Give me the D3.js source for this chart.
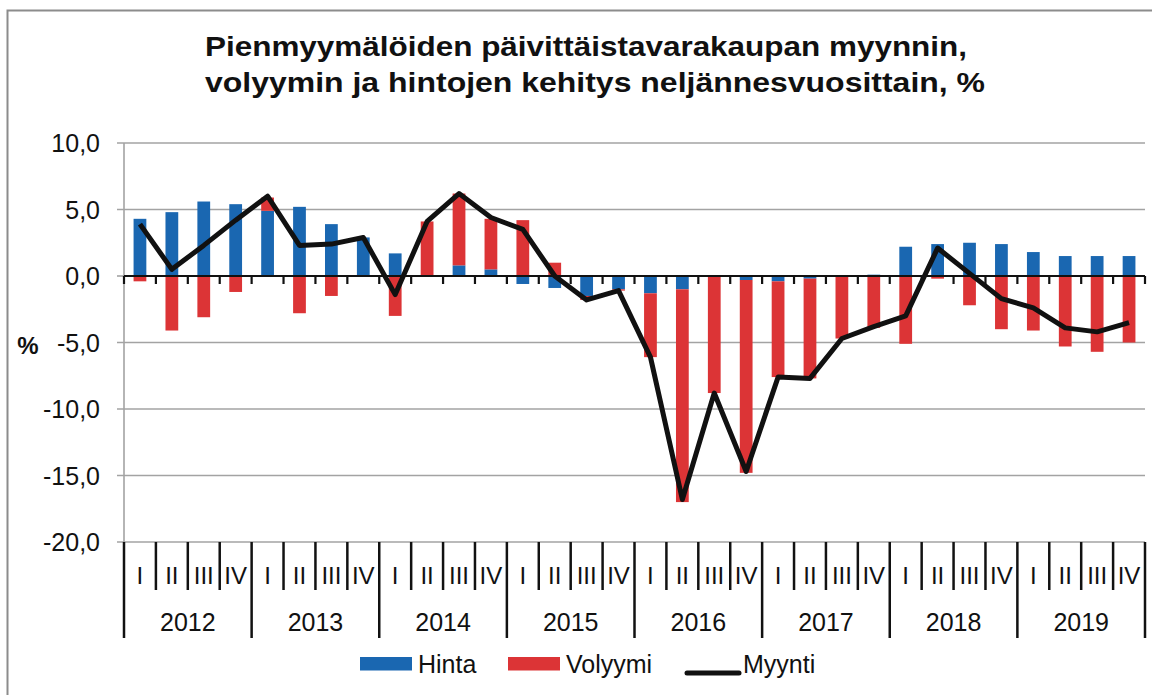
<!DOCTYPE html>
<html>
<head>
<meta charset="utf-8">
<script src="https://cdn.jsdelivr.net/npm/d3@7"></script>
<style>
  body { margin: 0; background: #fff; }
  text { font-family: "Liberation Sans", Arial, sans-serif; fill: #111; }
</style>
</head>
<body>
<div class="mainView"></div>
<script>
// data
let years = ["2012","2013","2014","2015","2016","2017","2018","2019"];
let quarters = ["I","II","III","IV"];
let hinta = [4.3, 4.8, 5.6, 5.4,  4.9, 5.2, 3.9, 2.9,  1.7, 0.0, 0.8, 0.5,
             -0.6, -0.9, -1.5, -1.0,  -1.3, -1.0, 0.0, -0.3,  -0.4, -0.2, 0.0, 0.1,
             2.2, 2.4, 2.5, 2.4,  1.8, 1.5, 1.5, 1.5];
let volyymi = [-0.4, -4.1, -3.1, -1.2,  1.0, -2.8, -1.5, 0.0,  -3.0, 4.1, 5.4, 3.8,
               4.2, 1.0, -0.3, -0.1,  -4.8, -16.0, -8.8, -14.5,  -7.2, -7.5, -4.7, -3.9,
               -5.1, -0.2, -2.2, -4.0,  -4.1, -5.3, -5.7, -5.0];
let myynti = [3.9, 0.5, 2.3, 4.2,  6.0, 2.3, 2.4, 2.9,  -1.4, 4.1, 6.2, 4.4,
              3.5, 0.0, -1.8, -1.1,  -6.1, -16.8, -8.8, -14.7,  -7.6, -7.7, -4.7, -3.8,
              -3.0, 2.1, 0.2, -1.7,  -2.4, -3.9, -4.2, -3.5];
let yTicks = [10, 5, 0, -5, -10, -15, -20];
let seriesNames = ["Hinta", "Volyymi", "Myynti"];
let titleLines = ["Pienmyymälöiden päivittäistavarakaupan myynnin,",
                  "volyymin ja hintojen kehitys neljännesvuosittain, %"];

function displayChart(){
    let config = chartConfiguration();
    let rows = buildRows();
    let scales = chartScales(rows, config);
    drawFrame(config);
    drawGrid(scales, config);
    drawBars(rows, scales, config);
    drawCategoryAxis(scales, config);
    drawLine(rows, scales, config);
    drawLegend(config);
}

function chartConfiguration(){
    let width = 1152;
    let height = 695;
    let left = 124, right = 1145, top = 143, bottom = 542;
    let svg = d3.select(".mainView")
        .append("svg")
        .attr("width", width)
        .attr("height", height);
    return { width, height, left, right, top, bottom, svg };
}

function buildRows(){
    let rows = [];
    years.forEach((y, yi) => {
        quarters.forEach((q, qi) => {
            let i = yi*4 + qi;
            rows.push({ key: y + "-" + q, year: y, quarter: q,
                        Hinta: hinta[i], Volyymi: volyymi[i], Myynti: myynti[i] });
        });
    });
    return rows;
}

function chartScales(rows, config){
    let xScale = d3.scaleBand()
        .domain(rows.map(d => d.key))
        .range([config.left, config.right])
        .padding(0);
    let yScale = d3.scaleLinear()
        .domain([-20, 10])
        .range([config.bottom, config.top]);
    let cScale = d3.scaleOrdinal()
        .domain(["Hinta", "Volyymi"])
        .range(["#1a67b1", "#dc3436"]);
    return { xScale, yScale, cScale };
}

function drawFrame(config){
    config.svg.append("path")
        .attr("d", "M7.5,720V10.5H1200")
        .style("fill", "none")
        .style("stroke", "#8c8c8c")
        .style("stroke-width", 2);

    let tl = [ { y: 56, len: 762 }, { y: 92, len: 780 } ];
    titleLines.forEach((t, i) => {
        config.svg.append("text")
            .attr("x", 586 + (i === 1 ? 9 : 0)).attr("y", tl[i].y)
            .attr("text-anchor", "middle")
            .attr("textLength", tl[i].len)
            .attr("lengthAdjust", "spacingAndGlyphs")
            .style("font-size", "28px").style("font-weight", "bold")
            .text(t);
    });

    config.svg.append("text")
        .attr("x", 28).attr("y", 354)
        .attr("text-anchor", "middle")
        .style("font-size", "24px").style("font-weight", "bold")
        .text("%");
}

function drawGrid(scales, config){
    let { yScale } = scales;
    let { svg, left, right } = config;
    let g = svg.append("g");
    yTicks.forEach(t => {
        if (t === 0) return;
        g.append("line")
            .attr("x1", left - 7).attr("x2", right)
            .attr("y1", yScale(t)).attr("y2", yScale(t))
            .style("stroke", "#a3a3a3").style("stroke-width", 1.6);
    });
    g.append("line")
        .attr("x1", left - 7).attr("x2", left)
        .attr("y1", yScale(0)).attr("y2", yScale(0))
        .style("stroke", "#a3a3a3").style("stroke-width", 1.6);
    g.append("line")
        .attr("x1", left).attr("x2", left)
        .attr("y1", yScale(10)).attr("y2", yScale(-20))
        .style("stroke", "#a3a3a3").style("stroke-width", 1.6);
    yTicks.forEach(t => {
        g.append("text")
            .attr("x", 100).attr("y", yScale(t))
            .attr("dy", "0.36em")
            .attr("text-anchor", "end")
            .style("font-size", "25px")
            .text(d3.format(".1f")(t).replace(".", ",").replace("−", "-"));
    });
}

function drawBars(rows, scales, config){
    let { xScale, yScale, cScale } = scales;
    let stack = d3.stack()
        .keys(["Hinta", "Volyymi"])
        .offset(d3.stackOffsetDiverging);
    let layers = stack(rows);
    let bw = xScale.bandwidth() * 0.4;
    config.svg.append("g").selectAll("g")
        .data(layers)
        .join("g")
        .style("fill", d => cScale(d.key))
        .selectAll("rect")
        .data(d => d)
        .join("rect")
        .attr("x", d => xScale(d.data.key) + (xScale.bandwidth() - bw)/2)
        .attr("width", bw)
        .attr("y", d => yScale(Math.max(d[0], d[1])))
        .attr("height", d => Math.abs(yScale(d[0]) - yScale(d[1])));

    // zero line with quarter ticks
    let g = config.svg.append("g");
    g.append("line")
        .attr("x1", config.left).attr("x2", config.right)
        .attr("y1", yScale(0)).attr("y2", yScale(0))
        .style("stroke", "#111").style("stroke-width", 2.2);
    let bounds = rows.map(d => xScale(d.key)).concat([config.right]);
    bounds.forEach(x => {
        g.append("line")
            .attr("x1", x).attr("x2", x)
            .attr("y1", yScale(0)).attr("y2", yScale(0) + 8)
            .style("stroke", "#111").style("stroke-width", 2.2);
    });
}

function drawCategoryAxis(scales, config){
    let { xScale } = scales;
    let { svg, bottom, right } = config;
    let g = svg.append("g");
    let step = xScale.step();
    xScale.domain().forEach((k, i) => {
        let x = xScale(k);
        let isYear = i % 4 === 0;
        g.append("line")
            .attr("x1", x).attr("x2", x)
            .attr("y1", bottom).attr("y2", isYear ? 638 : 590)
            .style("stroke", "#111").style("stroke-width", 2.5);
        g.append("text")
            .attr("x", x + step/2).attr("y", 584)
            .attr("text-anchor", "middle")
            .style("font-size", "24px")
            .text(quarters[i % 4]);
    });
    g.append("line")
        .attr("x1", right).attr("x2", right)
        .attr("y1", bottom).attr("y2", 638)
        .style("stroke", "#111").style("stroke-width", 2.5);
    years.forEach((y, yi) => {
        let x0 = xScale(y + "-I");
        g.append("text")
            .attr("x", x0 + step*2).attr("y", 631)
            .attr("text-anchor", "middle")
            .style("font-size", "25px")
            .text(y);
    });
}

function drawLine(rows, scales, config){
    let { xScale, yScale } = scales;
    let line = d3.line()
        .x(d => xScale(d.key) + xScale.bandwidth()/2)
        .y(d => yScale(d.Myynti));
    config.svg.append("path")
        .datum(rows)
        .attr("d", line)
        .style("fill", "none")
        .style("stroke", "#111")
        .style("stroke-width", 5)
        .style("stroke-linejoin", "round");
}

function drawLegend(config){
    let g = config.svg.append("g");
    let items = [
        { name: seriesNames[0], x: 360, color: "#1a67b1", type: "rect" },
        { name: seriesNames[1], x: 508, color: "#dc3436", type: "rect" },
        { name: seriesNames[2], x: 685, color: "#111", type: "line" }
    ];
    items.forEach(it => {
        if (it.type === "rect") {
            g.append("rect")
                .attr("x", it.x).attr("y", 657)
                .attr("width", 52).attr("height", 13.5)
                .style("fill", it.color);
        } else {
            g.append("line")
                .attr("x1", it.x + 2).attr("x2", it.x + 54)
                .attr("y1", 673).attr("y2", 673)
                .style("stroke", it.color).style("stroke-width", 5)
                .style("stroke-linecap", "round");
        }
        g.append("text")
            .attr("x", it.x + 58).attr("y", 673)
            .style("font-size", "25px")
            .text(it.name);
    });
}

displayChart();
</script>
</body>
</html>
